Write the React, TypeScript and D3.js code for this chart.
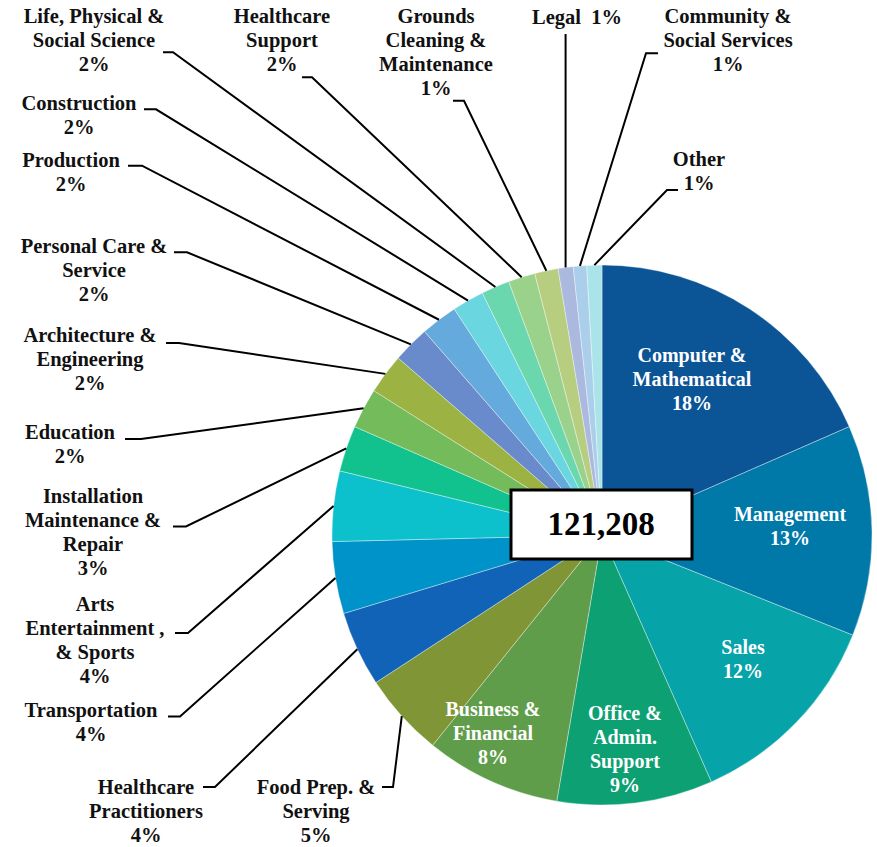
import React from "react";
import * as d3 from "d3";

const categories = [
  "Computer & Mathematical", "Management", "Sales", "Office & Admin. Support",
  "Business & Financial", "Food Prep. & Serving", "Healthcare Practitioners",
  "Transportation", "Arts Entertainment , & Sports", "Installation Maintenance & Repair",
  "Education", "Architecture & Engineering", "Personal Care & Service", "Production",
  "Construction", "Life, Physical & Social Science", "Healthcare Support",
  "Grounds Cleaning & Maintenance", "Legal", "Community & Social Services", "Other",
];
const shares = [18.4, 12.6, 12.3, 9.3, 8.1, 5.0, 4.5, 4.3, 4.2, 2.75, 2.4, 2.4, 2.2, 2.2, 1.9, 1.7, 1.6, 1.4, 0.9, 0.8, 0.9];
const pctLabels = ["18%", "13%", "12%", "9%", "8%", "5%", "4%", "4%", "4%", "3%", "2%", "2%", "2%", "2%", "2%", "2%", "2%", "1%", "1%", "1%", "1%"];
const colors = [
  "#0B5496", "#0078A8", "#06A3A8", "#0DA073", "#5F9D4B", "#809536", "#1063B6",
  "#0093CA", "#0CC1CB", "#12C28E", "#73BB5B", "#9CB344", "#6A8BCB", "#65AADC",
  "#6AD6DF", "#6BD7AF", "#9AD28B", "#B7CD80", "#ACB9DF", "#ABCFEA", "#ABE4E8",
];
const totalLabel = "121,208";

const labelLines: Record<string, string[]> = {
  "Computer & Mathematical": ["Computer &", "Mathematical"],
  "Management": ["Management"],
  "Sales": ["Sales"],
  "Office & Admin. Support": ["Office &", "Admin.", "Support"],
  "Business & Financial": ["Business &", "Financial"],
  "Food Prep. & Serving": ["Food Prep. &", "Serving"],
  "Healthcare Practitioners": ["Healthcare", "Practitioners"],
  "Transportation": ["Transportation"],
  "Arts Entertainment , & Sports": ["Arts", "Entertainment ,", "& Sports"],
  "Installation Maintenance & Repair": ["Installation", "Maintenance &", "Repair"],
  "Education": ["Education"],
  "Architecture & Engineering": ["Architecture &", "Engineering"],
  "Personal Care & Service": ["Personal Care &", "Service"],
  "Production": ["Production"],
  "Construction": ["Construction"],
  "Life, Physical & Social Science": ["Life, Physical &", "Social Science"],
  "Healthcare Support": ["Healthcare", "Support"],
  "Grounds Cleaning & Maintenance": ["Grounds", "Cleaning &", "Maintenance"],
  "Legal": [],
  "Community & Social Services": ["Community &", "Social Services"],
  "Other": ["Other"],
};

const W = 877, H = 847;
const CX = 602, CY = 535, R = 270;
const LH = 24;

const innerPos: Record<string, [number, number]> = {
  "Computer & Mathematical": [692, 362],
  "Management": [790, 521],
  "Sales": [743, 654],
  "Office & Admin. Support": [625, 720],
  "Business & Financial": [493, 716],
};

const outerPos: Record<string, { x: number; y: number; t: [number, number, number] | null }> = {
  "Food Prep. & Serving": { x: 316, y: 794, t: [382, 393, 787] },
  "Healthcare Practitioners": { x: 146, y: 794, t: [203, 215, 787] },
  "Transportation": { x: 91, y: 717, t: [168, 180, 716.5] },
  "Arts Entertainment , & Sports": { x: 95, y: 611, t: [175, 188, 633] },
  "Installation Maintenance & Repair": { x: 93, y: 503, t: [173, 186, 526.5] },
  "Education": { x: 70, y: 439, t: [125, 141, 439] },
  "Architecture & Engineering": { x: 90, y: 342, t: [166, 179, 343] },
  "Personal Care & Service": { x: 94, y: 253, t: [174, 187, 252.3] },
  "Production": { x: 71, y: 167, t: [128, 142, 165.7] },
  "Construction": { x: 79, y: 110, t: [144, 156, 109.3] },
  "Life, Physical & Social Science": { x: 94, y: 23, t: [163, 173, 52.3] },
  "Healthcare Support": { x: 282, y: 23, t: [302, 312, 77.3] },
  "Grounds Cleaning & Maintenance": { x: 436, y: 23, t: [453, 464, 100.7] },
  "Legal": { x: 577, y: 24, t: null },
  "Community & Social Services": { x: 728, y: 23, t: [658, 646, 53.3] },
  "Other": { x: 699, y: 166, t: [678, 667, 190] },
};

const FONT = "'Liberation Serif', 'Times New Roman', serif";

export default function App() {
  const pie = d3.pie<number>().sort(null).value((d) => d)(shares);
  const arc = d3.arc<d3.PieArcDatum<number>>().innerRadius(0).outerRadius(R);

  const edgePoint = (a: d3.PieArcDatum<number>) => {
    const m = (a.startAngle + a.endAngle) / 2;
    return [CX + R * Math.sin(m), CY - R * Math.cos(m)];
  };

  return (
    <svg width={W} height={H} style={{ position: "absolute", left: 0, top: 0, background: "#fff" }}>
      <g transform={`translate(${CX},${CY})`}>
        {pie.map((a, i) => (
          <path key={i} d={arc(a) || ""} fill={colors[i]} stroke="#ffffff" strokeOpacity={0.45} strokeWidth={0.8} />
        ))}
      </g>
      {pie.map((a, i) => {
        const name = categories[i];
        const p = outerPos[name];
        if (!p) return null;
        const [ex, ey] = edgePoint(a);
        if (!p.t) {
          return <line key={i} x1={ex} y1={34} x2={ex} y2={ey} stroke="#000" strokeWidth={2} />;
        }
        const [x1, x2, ty] = p.t;
        return (
          <polyline key={i} points={`${x1},${ty} ${x2},${ty} ${ex},${ey}`} fill="none" stroke="#000" strokeWidth={2} />
        );
      })}
      {categories.map((name, i) => {
        const p = outerPos[name];
        if (!p) return null;
        if (name === "Legal") {
          return (
            <text key={i} x={p.x} y={p.y} textAnchor="middle" fontFamily={FONT} fontWeight="bold" fontSize={20.5} fill="#111" style={{ whiteSpace: "pre" }}>
              {`Legal\u00a0 ${pctLabels[i]}`}
            </text>
          );
        }
        const lines = [...labelLines[name], pctLabels[i]];
        return (
          <text key={i} textAnchor="middle" fontFamily={FONT} fontWeight="bold" fontSize={20.5} fill="#111">
            {lines.map((l, j) => (
              <tspan key={j} x={p.x} y={p.y + j * LH}>{l}</tspan>
            ))}
          </text>
        );
      })}
      {categories.map((name, i) => {
        const p = innerPos[name];
        if (!p) return null;
        const lines = [...labelLines[name], pctLabels[i]];
        return (
          <text key={i} textAnchor="middle" fontFamily={FONT} fontWeight="bold" fontSize={20} fill="#fff">
            {lines.map((l, j) => (
              <tspan key={j} x={p[0]} y={p[1] + j * LH}>{l}</tspan>
            ))}
          </text>
        );
      })}
      <rect x={511} y={490} width={181} height={69} fill="#fff" stroke="#000" strokeWidth={3} />
      <text x={601} y={535} textAnchor="middle" fontFamily={FONT} fontWeight="bold" fontSize={33} fill="#000">
        {totalLabel}
      </text>
    </svg>
  );
}
